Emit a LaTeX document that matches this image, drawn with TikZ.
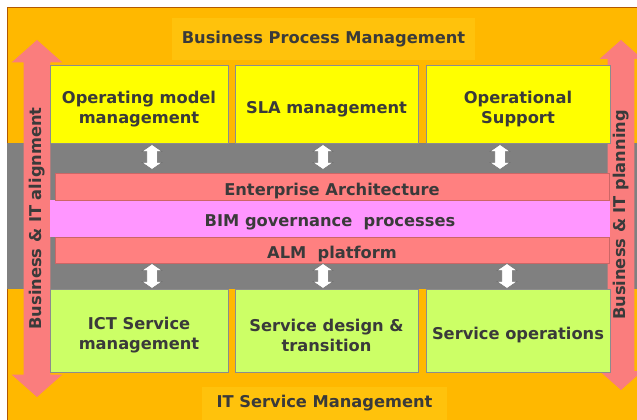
\documentclass[tikz,border=0pt]{standalone}
\usepackage{fontspec}
\setmainfont{DejaVu Sans}
\usetikzlibrary{shapes.arrows}

\definecolor{bgorange}{RGB}{255,184,0}
\definecolor{titleorange}{RGB}{255,194,12}
\definecolor{boxyellow}{RGB}{255,255,0}
\definecolor{boxgreen}{RGB}{204,255,102}
\definecolor{barsalmon}{RGB}{255,128,128}
\definecolor{barpink}{RGB}{255,150,255}
\definecolor{bandgray}{RGB}{128,128,128}
\definecolor{txtgray}{RGB}{58,58,58}
\definecolor{arrowsalmon}{RGB}{250,125,125}

% extra room above the first line, so the text sits a little low
\newcommand{\topgap}[1]{\rule{0pt}{#1}}

\tikzset{
  lbl/.style={font=\bfseries\fontsize{12.2}{15}\selectfont, text=txtgray, align=center},
  sized/.style 2 args={minimum width={(#1)*0.75pt}, minimum height={(#2)*0.75pt}},
  block/.style={lbl, inner sep=0pt, draw=black!45, very thin},
  bar/.style={lbl, inner sep=0pt},
  updown/.style={double arrow, rotate=90, fill=white, draw=black!55, thin,
    minimum height=18.75pt, inner sep=3.75pt,
    double arrow head extend=3.6pt, double arrow tip angle=110},
  bigarrow/.style={lbl, double arrow, rotate=90, fill=arrowsalmon,
    text height=9pt, text depth=2.5pt, inner xsep=0pt, inner ysep=4pt,
    double arrow tip angle=97}
}

\begin{document}
\begin{tikzpicture}[x=0.75pt, y=-0.75pt]
  \useasboundingbox (0,0) rectangle (637,420);

  % background and middle band
  \draw[fill=bgorange, draw=orange!70!black, very thin] (7,7) rectangle (640,423);
  \fill[bandgray] (7,143) rectangle (640,289);

  % headings
  \node[lbl, fill=titleorange, sized={303}{42}] (bpm) at (323.5,39) {Business Process Management};
  \node[lbl, fill=titleorange, sized={245}{33}] (itsm) at (324.5,403.5) {IT Service Management};

  % side arrows
  \node[bigarrow, minimum height=267.75pt, double arrow head extend=9pt] (align)
    at (37,218.5) {Business \& IT alignment};
  \node[bigarrow, minimum height=262.5pt, double arrow head extend=6pt] (planning)
    at (621,215) {Business \& IT planning};

  % process blocks
  \foreach \name/\xa/\xb/\txt in {opmodel/50/228/{Operating model\\management},
      sla/235/418/{SLA management}, opsupport/426/610/{Operational\\Support}} {
    \node[block, fill=boxyellow, sized={\xb-\xa}{78}] (\name) at ({(\xa+\xb)/2},104) {\topgap{17pt}\txt};
  }
  \foreach \name/\xa/\xb/\txt in {ictsm/50/228/{ICT Service\\management},
      design/235/418/{Service design \&\\transition}, operations/426/610/{Service operations}} {
    \node[block, fill=boxgreen, sized={\xb-\xa}{83}] (\name) at ({(\xa+\xb)/2},330.5) {\topgap{16pt}\txt};
  }

  % shared layers
  \node[bar, fill=barpink, sized={560}{37}] (bimgov) at (330,218.5) {\topgap{15pt}BIM governance\ \ processes};
  \node[bar, fill=barsalmon, draw=barsalmon!80!black, very thin, sized={554}{27}] (entarch)
    at (332,186.5) {\topgap{16pt}Enterprise Architecture};
  \node[bar, fill=barsalmon, draw=barsalmon!80!black, very thin, sized={554}{26}] (alm)
    at (332,250) {\topgap{16pt}ALM\ \ platform};

  % links between blocks and layers
  \foreach \x/\y [count=\i] in {152/157, 323/157, 500/157, 152/276, 323/276, 507/276} {
    \node[updown] (link\i) at (\x,\y) {};
  }
\end{tikzpicture}
\end{document}
